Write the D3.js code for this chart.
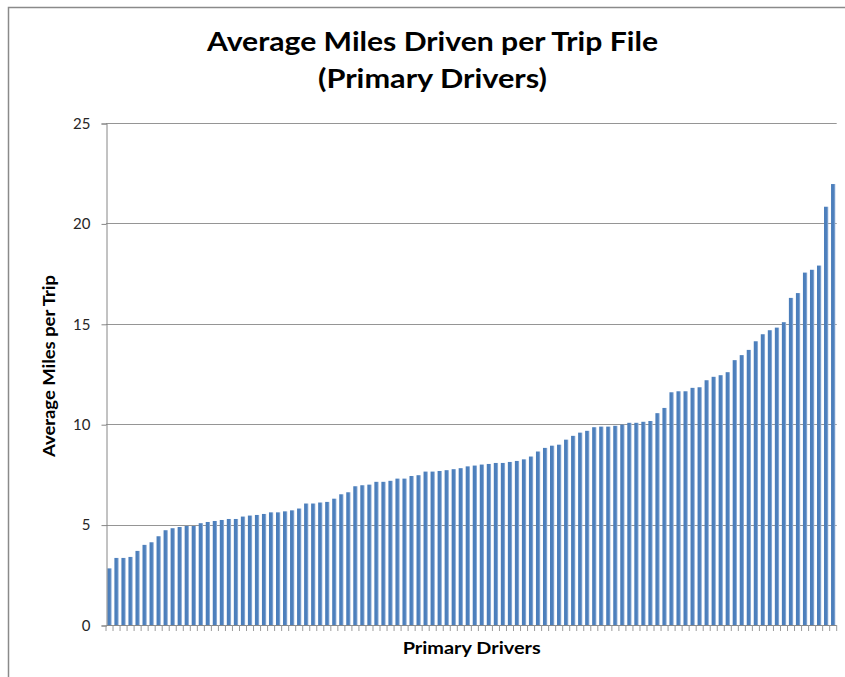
<!DOCTYPE html>
<html>
<head>
<meta charset="utf-8">
<script src="https://cdn.jsdelivr.net/npm/d3@7"></script>
<style>
  body { margin: 0; background: #fff; }
  svg { display: block; }
</style>
</head>
<body>
<div id="chart"></div>
<script>
/*============================
==CHART DATA ================*/
var chartTitle = ["Average Miles Driven per Trip File", "(Primary Drivers)"];
var xTitle = "Primary Drivers";
var yTitle = "Average Miles per Trip";
var yTicks = [0, 5, 10, 15, 20, 25];

// average miles per trip, one value per primary driver (sorted)
var milesPerTrip = [
  2.82, 3.34, 3.34, 3.39, 3.69, 3.99, 4.12, 4.42, 4.72, 4.82,
  4.88, 4.93, 4.93, 5.07, 5.13, 5.18, 5.23, 5.28, 5.28, 5.40,
  5.45, 5.48, 5.53, 5.61, 5.61, 5.66, 5.71, 5.80, 6.05, 6.05,
  6.10, 6.13, 6.29, 6.51, 6.61, 6.91, 6.96, 6.99, 7.13, 7.13,
  7.18, 7.29, 7.29, 7.42, 7.46, 7.64, 7.64, 7.67, 7.71, 7.76,
  7.81, 7.90, 7.94, 7.99, 8.02, 8.07, 8.07, 8.12, 8.17, 8.25,
  8.39, 8.64, 8.82, 8.93, 8.98, 9.23, 9.42, 9.58, 9.67, 9.85,
  9.88, 9.88, 9.92, 9.98, 10.07, 10.07, 10.12, 10.16, 10.55, 10.81,
  11.59, 11.64, 11.64, 11.81, 11.84, 12.19, 12.36, 12.44, 12.59, 13.19,
  13.44, 13.70, 14.13, 14.48, 14.68, 14.81, 15.08, 16.29, 16.53, 17.55,
  17.69, 17.90, 20.83, 21.96
];

// one category per driver, no names on the axis
var drivers = milesPerTrip.map(function(d, i) { return i; });

/*=============================
===SVG ELEMENT ===============*/
var svgWidth = 845;
var svgHeight = 677;

// plot area inside the window
var plot = { left: 106, right: 836.7, top: 123, bottom: 625 };

var svg = d3.select("#chart")
  .append("svg")
  .attr("width", svgWidth)
  .attr("height", svgHeight);

// bar fill, a little lighter on the right edge like the office chart
var grad = svg.append("defs").append("linearGradient")
  .attr("id", "barFill")
  .attr("x1", "0%").attr("x2", "100%")
  .attr("y1", "0%").attr("y2", "0%");
grad.append("stop").attr("offset", "0%").attr("stop-color", "#4a7dba");
grad.append("stop").attr("offset", "65%").attr("stop-color", "#4f81bd");
grad.append("stop").attr("offset", "100%").attr("stop-color", "#a3bde0");

// chart frame (only left and top edges are in the picture)
svg.append("path")
  .attr("d", "M8.5," + svgHeight + " L8.5,7.5 L" + svgWidth + ",7.5")
  .attr("fill", "none")
  .attr("stroke", "#8a8a8a")
  .attr("stroke-width", 1.5);

/*======================
==SCALES ===============*/
var xScale = d3.scaleBand()
  .domain(drivers)
  .range([plot.left, plot.right])
  .paddingInner(0.39)
  .paddingOuter(0.195);

var yScale = d3.scaleLinear()
  .domain([0, 25])
  .range([plot.bottom, plot.top]);

// gridlines
svg.append("g")
  .selectAll("line")
  .data(yTicks.filter(function(t) { return t > 0; }))
  .enter()
  .append("line")
  .attr("x1", plot.left)
  .attr("x2", plot.right)
  .attr("y1", function(d) { return Math.round(yScale(d)) + 0.5; })
  .attr("y2", function(d) { return Math.round(yScale(d)) + 0.5; })
  .attr("stroke", "#959595")
  .attr("stroke-width", 1);

/*===========================
==BARS ======================*/
svg.append("g")
  .selectAll("rect")
  .data(milesPerTrip)
  .enter()
  .append("rect")
  .attr("x", function(d, i) { return xScale(i); })
  .attr("width", xScale.bandwidth())
  .attr("y", function(d) { return yScale(d); })
  .attr("height", function(d) { return yScale(0) - yScale(d); })
  .attr("fill", "url(#barFill)");

/*===========================
==AXES ======================*/
var yAxis = d3.axisLeft(yScale)
  .tickValues(yTicks)
  .tickSize(5)
  .tickPadding(11);

var yG = svg.append("g")
  .attr("transform", "translate(" + (plot.left + 0.5) + ",0.5)")
  .call(yAxis);
yG.select(".domain").attr("stroke", "#868686");
yG.selectAll(".tick line").attr("stroke", "#868686");
yG.selectAll(".tick text")
  .attr("font-family", "Lato, 'Open Sans', sans-serif")
  .attr("font-size", 15)
  .attr("fill", "#262626");

// x axis: tick marks on the boundaries between drivers
var step = xScale.step();
var boundaries = drivers.concat([drivers.length]);
var xG = svg.append("g");
xG.append("line")
  .attr("x1", plot.left)
  .attr("x2", plot.right)
  .attr("y1", plot.bottom + 0.5)
  .attr("y2", plot.bottom + 0.5)
  .attr("stroke", "#868686");
xG.selectAll(".xtick")
  .data(boundaries)
  .enter()
  .append("line")
  .attr("class", "xtick")
  .attr("x1", function(d) { return plot.left + d * step; })
  .attr("x2", function(d) { return plot.left + d * step; })
  .attr("y1", plot.bottom)
  .attr("y2", plot.bottom + 6)
  .attr("stroke", "#9a9a9a")
  .attr("stroke-width", 1);

/*===========================
==TITLES ====================*/
var titleWidths = [451, 229];
svg.append("g")
  .selectAll("text")
  .data(chartTitle)
  .enter()
  .append("text")
  .attr("x", 432.5)
  .attr("y", function(d, i) { return 51 + i * 36.5; })
  .attr("text-anchor", "middle")
  .attr("font-family", "Lato, 'Open Sans', sans-serif")
  .attr("font-weight", "bold")
  .attr("font-size", 27)
  .attr("textLength", function(d, i) { return titleWidths[i]; })
  .attr("lengthAdjust", "spacingAndGlyphs")
  .attr("fill", "#000")
  .text(function(d) { return d; });

svg.append("text")
  .attr("x", 471.7)
  .attr("y", 653.5)
  .attr("text-anchor", "middle")
  .attr("font-family", "Lato, 'Open Sans', sans-serif")
  .attr("font-weight", "bold")
  .attr("font-size", 17.5)
  .attr("textLength", 138)
  .attr("lengthAdjust", "spacingAndGlyphs")
  .attr("fill", "#000")
  .text(xTitle);

svg.append("text")
  .attr("transform", "translate(54.5,366) rotate(-90)")
  .attr("text-anchor", "middle")
  .attr("font-family", "Lato, 'Open Sans', sans-serif")
  .attr("font-weight", "bold")
  .attr("font-size", 17.5)
  .attr("textLength", 182)
  .attr("lengthAdjust", "spacingAndGlyphs")
  .attr("fill", "#000")
  .text(yTitle);
</script>
</body>
</html>
